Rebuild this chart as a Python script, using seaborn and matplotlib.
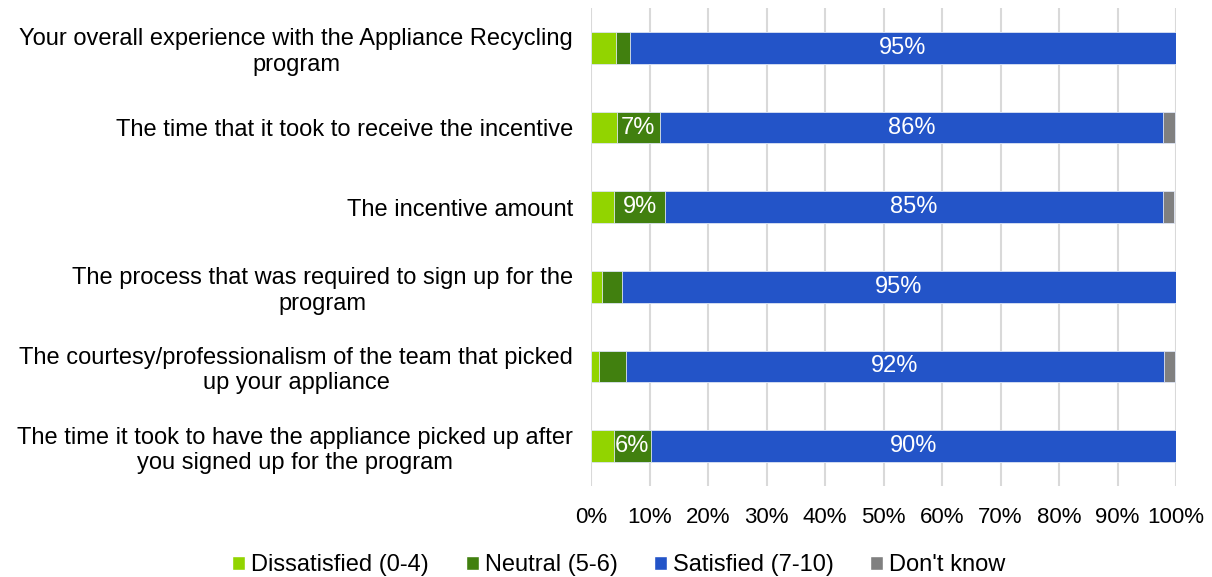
import seaborn as sns
import matplotlib.pyplot as plt
import pandas as pd
import numpy as np
from matplotlib.ticker import PercentFormatter
from matplotlib.patches import Patch

questions = [
    "Your overall experience with the Appliance Recycling\nprogram",
    "The time that it took to receive the incentive",
    "The incentive amount",
    "The process that was required to sign up for the\nprogram",
    "The courtesy/professionalism of the team that picked\nup your appliance",
    "The time it took to have the appliance picked up after\nyou signed up for the program",
]
dissatisfied = [4.2, 4.4, 3.9, 1.8, 1.4, 3.9]
neutral = [2.4, 7.4, 8.8, 3.5, 4.5, 6.3]
satisfied = [95, 86, 85, 95, 92, 90]
dont_know = [0, 2, 2, 0, 2, 0]

series = ["Dissatisfied (0-4)", "Neutral (5-6)", "Satisfied (7-10)", "Don't know"]
colors = ["#92d400", "#41800f", "#2354c8", "#808080"]

df = pd.DataFrame({"question": questions, series[0]: dissatisfied, series[1]: neutral,
                   series[2]: satisfied, series[3]: dont_know})
cum = df[series].cumsum(axis=1)

sns.set_style("white")
plt.rcParams['font.family'] = ['Liberation Sans', 'DejaVu Sans']
plt.rcParams['text.color'] = 'black'

fig = plt.figure(figsize=(12.12, 5.77), dpi=100)
ax = fig.add_axes([591 / 1212, 1 - 486 / 577, 585 / 1212, 478 / 577])

# stacked bars: draw cumulative totals from the back to the front
for s, c in reversed(list(zip(series, colors))):
    sns.barplot(x=cum[s], y=df["question"], color=c, orient="h", width=0.395,
                edgecolor="#dfe6f5", linewidth=0.6, saturation=1, ax=ax)

# value labels
for i in range(len(df)):
    left = 0
    for s in series:
        v = df.loc[i, s]
        right = min(left + v, 100)
        if v >= 5:
            ax.text((left + right) / 2, i, f"{v:.0f}%", ha="center", va="center",
                    color="white", fontsize=17)
        left = right

ax.set_xlim(0, 100)
ax.set_xticks(np.arange(0, 101, 10))
ax.xaxis.set_major_formatter(PercentFormatter(decimals=0))
ax.set_xlabel("")
ax.set_ylabel("")
ax.grid(axis="x", color="#d9d9d9", linewidth=1.5)
ax.set_axisbelow(True)
ax.tick_params(axis="both", length=0, colors="black")
ax.tick_params(axis="x", pad=15, labelsize=16)
ax.tick_params(axis="y", pad=13, labelsize=17)
for lbl in ax.get_yticklabels():
    lbl.set_multialignment("center")
sns.despine(left=True, bottom=True)

handles = [Patch(facecolor=c, label=s) for s, c in zip(series, colors)]
fig.legend(handles=handles, loc="center", bbox_to_anchor=(619 / 1212, 1 - 565 / 577), ncol=4,
           frameon=False, fontsize=17, handlelength=0.55, handleheight=0.55,
           handletextpad=0.25, columnspacing=1.55, labelcolor="black")

fig.savefig("out.png", dpi=100)
